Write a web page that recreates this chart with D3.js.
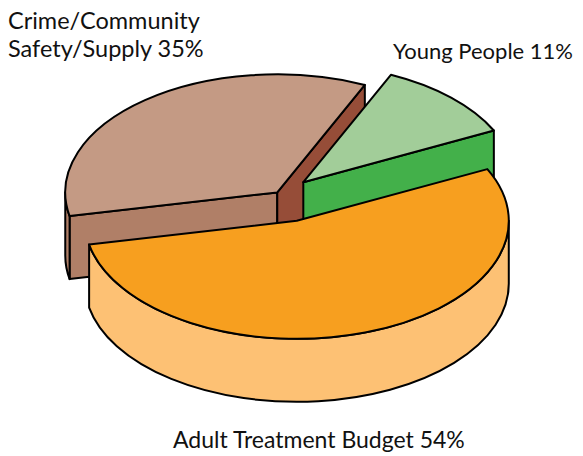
<!DOCTYPE html>
<html>
<head>
<meta charset="utf-8">
<script src="https://cdn.jsdelivr.net/npm/d3@7"></script>
<style>
  body { margin: 0; background: #fff; }
  svg text { font-family: Lato, "Open Sans", sans-serif; fill: #111; }
</style>
</head>
<body>
<svg id="chart"></svg>
<script>
// data
const categories = ['Adult Treatment Budget', 'Crime/Community Safety/Supply', 'Young People'];
const shares = [54, 35, 11];
const labelLines = [
  ['Adult Treatment Budget 54%'],
  ['Crime/Community', 'Safety/Supply 35%'],
  ['Young People 11%']
];

// 1. canvas
const width = 583, height = 456;
const svg = d3.select('#chart').attr('width', width).attr('height', height);

// pie geometry (tilted 3d disc)
const cx = 281, cy = 195;
const rx = 212, ry = 118;
const depth = 63;
const explode = [49, 6, 32];

const topColors  = ['#f79f1f', '#c49a84', '#a2cd99'];
const sideColors = ['#fdc174', '#b07f67', '#43b04a'];
const edgeColors = ['#fdc174', '#b07f67', '#43b04a'];   // radial face at start edge
const endColors  = ['#fdc174', '#964d38', '#43b04a'];   // radial face at end edge

// 2. angles from d3.pie (clockwise from 12 o'clock); screen angle = a - 90deg
const pie = d3.pie().sort(null).startAngle(64 * Math.PI / 180).endAngle(64 * Math.PI / 180 + 2 * Math.PI);
const arcs = pie(shares);

function pt(c, t, dy) {
  return [c[0] + rx * Math.cos(t), c[1] + ry * Math.sin(t) + (dy || 0)];
}

// 3. draw each slice, back ones first
const drawOrder = [1, 2, 0];
const g = svg.append('g');

drawOrder.forEach(i => {
  const a = arcs[i];
  const t0 = a.startAngle - Math.PI / 2;
  const t1 = a.endAngle - Math.PI / 2;
  const mid = (t0 + t1) / 2;
  const c = [cx + explode[i] * Math.cos(mid), cy + explode[i] * Math.sin(mid) * ry / rx];
  const slice = g.append('g').attr('class', 'slice');
  const stroke = { stroke: '#000', 'stroke-width': 2, 'stroke-linejoin': 'round' };

  function face(d, fill) {
    const p = slice.append('path').attr('d', d).attr('fill', fill);
    Object.entries(stroke).forEach(([k, v]) => p.attr(k, v));
  }

  function radial(t, fill) {
    const p0 = pt(c, t);
    face(`M${c[0]},${c[1]}L${p0[0]},${p0[1]}L${p0[0]},${p0[1] + depth}L${c[0]},${c[1] + depth}Z`, fill);
  }

  // radial faces, shown when they turn towards the viewer
  if (Math.cos(t0) < 0) radial(t0, edgeColors[i]);
  if (Math.cos(t1) > 0) radial(t1, endColors[i]);

  // outer side: the part of the rim on the front half (0..PI)
  for (let k = -1; k <= 1; k++) {
    const lo = Math.max(t0, k * 2 * Math.PI);
    const hi = Math.min(t1, k * 2 * Math.PI + Math.PI);
    if (hi - lo > 0.001) {
      const a0 = pt(c, lo), a1 = pt(c, hi);
      face(`M${a0[0]},${a0[1]}A${rx},${ry} 0 0 1 ${a1[0]},${a1[1]}` +
           `L${a1[0]},${a1[1] + depth}A${rx},${ry} 0 0 0 ${a0[0]},${a0[1] + depth}Z`, sideColors[i]);
    }
  }

  // top face
  const s = pt(c, t0), e = pt(c, t1);
  const large = (t1 - t0) > Math.PI ? 1 : 0;
  face(`M${c[0]},${c[1]}L${s[0]},${s[1]}A${rx},${ry} 0 ${large} 1 ${e[0]},${e[1]}Z`, topColors[i]);
});

// 4. labels
const labelPos = [[173, 448, 'start', 23], [8, 29, 'start', 23.5], [573, 59, 'end', 22]];
labelLines.forEach((lines, i) => {
  const t = svg.append('text')
    .attr('x', labelPos[i][0])
    .attr('y', labelPos[i][1])
    .attr('text-anchor', labelPos[i][2])
    .style('font-size', labelPos[i][3] + 'px');
  lines.forEach((l, j) => {
    t.append('tspan').attr('x', labelPos[i][0]).attr('dy', j ? 28 : 0).text(l);
  });
});
</script>
</body>
</html>
